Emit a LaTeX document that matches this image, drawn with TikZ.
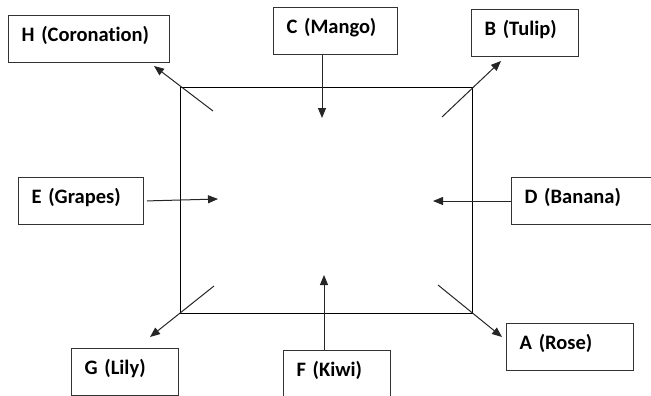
\documentclass[tikz,border=0pt]{standalone}
\usepackage{fontspec}
\setmainfont{Carlito}[Ligatures=NoCommon]
\usetikzlibrary{arrows.meta}
\tikzset{
  fruit/.style={draw=black!80, line width=1pt, anchor=north west, align=left,
    font=\fontsize{20.5}{24}\selectfont\bfseries, inner xsep=13pt, inner ysep=0pt,
    minimum height=47pt, text height=14pt, text depth=9pt},
  flow/.style={-{Triangle[length=10pt,width=8pt]}, line width=1pt, draw=black!85},
}
\begin{document}
\begin{tikzpicture}[x=1pt,y=-1pt]
  \clip (0,0) rectangle (651,396);
  % the plot in the middle
  \node[draw, line width=1.3pt, anchor=north west, inner sep=0pt,
        minimum width=292pt, minimum height=226pt] (plot) at (180,87) {};

  % the eight labels round it
  \node[fruit, text width=135pt] (H) at (8,15)    {H (Coronation)};
  \node[fruit, text width=98pt]  (C) at (273,7)   {C (Mango)};
  \node[fruit, text width=81pt]  (B) at (471,9)   {B (Tulip)};
  \node[fruit, text width=99pt]  (E) at (18,177)  {E (Grapes)};
  \node[fruit, text width=119pt] (D) at (511,177) {D (Banana)};
  \node[fruit, text width=81pt]  (G) at (71,348)  {G (Lily)};
  \node[fruit, text width=81pt]  (F) at (283,350) {F (Kiwi)};
  \node[fruit, text width=101pt] (A) at (506,323) {A (Rose)};

  \coordinate (hTail) at (213,111); \coordinate (hTip) at (154,66);
  \coordinate (cTip)  at (322,118);
  \coordinate (bTail) at (442,117); \coordinate (bTip) at (501,61);
  \coordinate (eTip)  at (218,199);
  \coordinate (dTip)  at (433,201);
  \coordinate (gTail) at (214,286); \coordinate (gTip) at (150,337);
  \coordinate (fTip)  at (324,275);
  \coordinate (aTail) at (438,285); \coordinate (aTip) at (502,337);

  \draw[flow] (hTail) -- (hTip);
  \draw[flow] (C.south -| cTip) -- (cTip);
  \draw[flow] (bTail) -- (bTip);
  \draw[flow, shorten <=3pt] (E.east) -- (eTip);
  \draw[flow] (D.west) -- (dTip);
  \draw[flow] (gTail) -- (gTip);
  \draw[flow] (F.north -| fTip) -- (fTip);
  \draw[flow] (aTail) -- (aTip);
\end{tikzpicture}
\end{document}
